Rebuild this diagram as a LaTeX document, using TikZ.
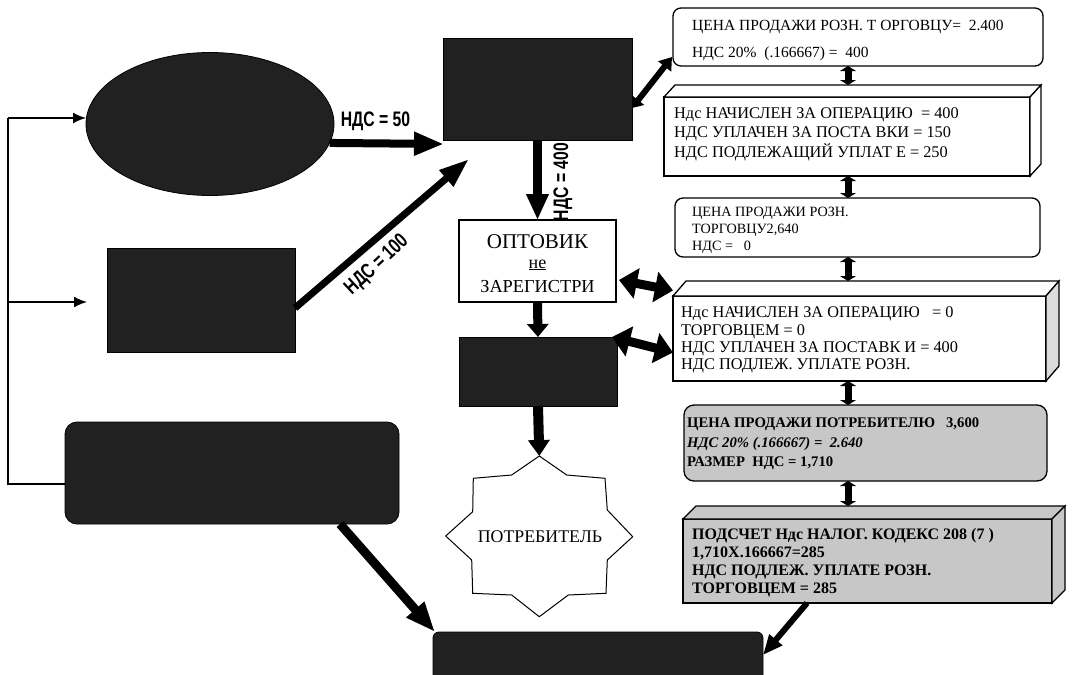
\documentclass[tikz,border=0pt]{standalone}
\usepackage{fontspec}
\setmainfont{Liberation Serif}
\newfontfamily\lblfont[FakeStretch=0.75]{Liberation Sans}
\usetikzlibrary{arrows.meta,shapes.geometric}
\definecolor{darkfill}{gray}{0.13}
\definecolor{dotfill}{gray}{0.78}
\definecolor{sidefill}{gray}{0.86}
\begin{document}
\begin{tikzpicture}[x=1pt,y=-1pt,
  darkbox/.style={draw=black,fill=darkfill,line width=0.8pt,outer sep=0pt,inner sep=0pt},
  wbox/.style={draw=black,fill=white,line width=1.3pt,outer sep=0pt,inner sep=0pt},
  graybox/.style={draw=black,fill=dotfill,line width=1.3pt,outer sep=0pt,inner sep=0pt},
  txt/.style={anchor=west,align=left,inner sep=0pt},
  lbl/.style={font=\lblfont\bfseries\fontsize{21}{21}\selectfont,inner sep=0pt},
  dbl/.style={line width=9pt,{Triangle[length=18pt,width=30pt]}-{Triangle[length=18pt,width=30pt]}},
  mini/.style={line width=7pt,{Triangle[length=5pt,width=16pt]}-{Triangle[length=5pt,width=16pt]}},
  thinarr/.style={line width=1.8pt,-{Latex[length=13pt,width=11pt]}}
]
\useasboundingbox (0,0) rectangle (1072,675);

% dark shapes
\node[darkbox,ellipse,minimum width=248pt,minimum height=143pt] (ell) at (210,124) {};
\node[darkbox,minimum width=188pt,minimum height=104pt] (dr1) at (201,300) {};
\node[darkbox,minimum width=189pt,minimum height=102pt] (top) at (537.5,89) {};
\node[darkbox,minimum width=158pt,minimum height=69pt] (mid) at (538,371.5) {};
\node[darkbox,rounded corners=12pt,minimum width=334pt,minimum height=102pt] (bl) at (232,473) {};
\node[darkbox,rounded corners=6pt,minimum width=330pt,minimum height=70pt] (bot) at (598,667) {};

% wholesaler box
\node[wbox,line width=1.2pt,minimum width=157pt,minimum height=82pt] (opt) at (537.5,261) {};
\node[anchor=base,inner sep=0pt,font=\fontsize{21}{21}\selectfont] (optA) at (537.5,248) {ОПТОВИК};
\node[anchor=base,inner sep=0pt,font=\fontsize{18}{18}\selectfont] (optB) at (537.5,268) {\underline{не}};
\node[anchor=base,inner sep=0pt,font=\fontsize{18.3}{18.3}\selectfont] (optC) at (537.5,292) {ЗАРЕГИСТРИ};

% star
\draw[line width=1pt,fill=white] (539.3,456) -- (566.7,475) -- (605,478.3) -- (607.3,510) -- (632.7,536.7) -- (607.3,560) -- (606,593.3) -- (568.3,595) -- (539.3,616.7) -- (511.7,595) -- (472.7,593.3) -- (471.7,560) -- (445.7,536) -- (472.7,511.7) -- (473.3,478.3) -- (511.7,475) -- cycle;
\coordinate (startop) at (539.3,456);
\node[font=\fontsize{17.8}{17.8}\selectfont,inner sep=0pt] (pot) at (540,537) {ПОТРЕБИТЕЛЬ};

% right column
\node[wbox,rounded corners=8pt,minimum width=370pt,minimum height=58pt] (A) at (858,37) {};
\node[txt,font=\fontsize{15.5}{27}\selectfont] (tA) at (692,40) {ЦЕНА ПРОДАЖИ РОЗН. Т ОРГОВЦУ=~~2.400\\НДС 20\%~~(.166667) =~~400};

\node[wbox,minimum width=366pt,minimum height=79pt] (B) at (847,136.5) {};
\draw[wbox] (B.north west) -- ++(11,-12) -- ([shift={(11,-12)}]B.north east) -- (B.north east) -- cycle;
\draw[wbox] (B.north east) -- ++(11,-12) -- ([shift={(11,-12)}]B.south east) -- (B.south east) -- cycle;
\node[txt,font=\fontsize{16.3}{19.5}\selectfont] (tB) at (674,134) {Ндс НАЧИСЛЕН ЗА ОПЕРАЦИЮ~~= 400\\НДС УПЛАЧЕН ЗА ПОСТА ВКИ = 150\\НДС ПОДЛЕЖАЩИЙ УПЛАТ Е~= 250};

\node[wbox,rounded corners=8pt,minimum width=365pt,minimum height=59pt] (C) at (857.5,227.5) {};
\node[txt,font=\fontsize{14.2}{17}\selectfont] (tC) at (692,230) {ЦЕНА ПРОДАЖИ РОЗН.\\ТОРГОВЦУ2,640\\НДС =~~~0};

\node[wbox,minimum width=373pt,minimum height=85pt] (D) at (859.5,338.5) {};
\draw[wbox] (D.north west) -- ++(13,-15) -- ([shift={(13,-15)}]D.north east) -- (D.north east) -- cycle;
\draw[wbox,fill=sidefill] (D.north east) -- ++(13,-15) -- ([shift={(13,-15)}]D.south east) -- (D.south east) -- cycle;
\node[txt,font=\fontsize{16.3}{17.3}\selectfont] (tD) at (681,340) {Ндс НАЧИСЛЕН ЗА ОПЕРАЦИЮ~~~= 0\\ТОРГОВЦЕМ = 0\\НДС УПЛАЧЕН ЗА ПОСТАВК И = 400\\НДС ПОДЛЕЖ. УПЛАТЕ РОЗН.};

\node[graybox,rounded corners=10pt,minimum width=363pt,minimum height=76pt] (E) at (865.5,443) {};
\node[txt,font=\bfseries\fontsize{14.7}{19.5}\selectfont] (tE) at (687,444) {ЦЕНА ПРОДАЖИ ПОТРЕБИТЕЛЮ~~~3,600\\\textit{НДС 20\% (.166667) =~~2.640}\\РАЗМЕР~ НДС = 1,710};

\node[graybox,minimum width=369pt,minimum height=84pt] (F) at (867.5,561) {};
\draw[graybox] (F.north west) -- ++(13,-13) -- ([shift={(13,-13)}]F.north east) -- (F.north east) -- cycle;
\draw[graybox] (F.north east) -- ++(13,-13) -- ([shift={(13,-13)}]F.south east) -- (F.south east) -- cycle;
\node[txt,font=\bfseries\fontsize{16}{18}\selectfont] (tF) at (692,563) {ПОДСЧЕТ Ндс НАЛОГ. КОДЕКС 208 (7 )\\1,710X.166667=285\\НДС ПОДЛЕЖ. УПЛАТЕ РОЗН.\\ТОРГОВЦЕМ = 285};

% left connector lines
\coordinate (j1) at (8,118);
\coordinate (j2) at (8,302);
\coordinate (j3) at (8,484);
\draw[line width=1.8pt] ([shift={(0,11)}]bl.west) -- (j3) -- (j1);
\draw[thinarr] (j1) -- ([shift={(0,-6)}]ell.west);
\draw[thinarr] (j2) -- ([shift={(-20,2)}]dr1.west);

% thick arrows
\draw[line width=8pt,-{Triangle[length=30pt,width=22pt]}] (ell.-9) -- ([shift={(1,4)}]top.south west);
\draw[line width=7pt,-{Triangle[length=30pt,width=20pt]}] ([shift={(0,8)}]dr1.east) -- ([shift={(26,19)}]top.south west);
\draw[line width=9pt,-{Triangle[length=26pt,width=21pt]}] (top.south) -- (opt.north);
\draw[line width=9pt,-{Triangle[length=13pt,width=21pt]}] (opt.south) -- (mid.north);
\draw[line width=10pt,-{Triangle[length=16pt,width=21pt]}] (mid.south) -- (startop);
\draw[line width=9pt,-{Triangle[length=30pt,width=22pt]}] ([shift={(-59,0)}]bl.south east) -- ([shift={(2,0)}]bot.north west);
\draw[line width=6pt,-{Triangle[length=20pt,width=16pt]}] ([shift={(124,0)}]F.south west) -- ([shift={(0,23)}]bot.north east);

% double arrows
\draw[line width=6pt,{Triangle[length=10pt,width=15pt]}-{Triangle[length=12pt,width=16pt]}] ([shift={(0,19)}]top.east) -- ([shift={(-1,20)}]A.west);
\draw[dbl] ([shift={(3,19)}]opt.east) -- ([shift={(0,-48)}]D.west);
\draw[dbl] ([shift={(-5,0)}]mid.north east) -- ([shift={(0,14)}]D.west);

\draw[mini] ([shift={(-10,0)}]A.south) -- ([shift={(1,-12)}]B.north);
\draw[mini] ([shift={(1,0)}]B.south) -- ([shift={(-9.5,0)}]C.north);
\draw[mini] ([shift={(-9.5,0)}]C.south) -- ([shift={(-11.5,-15)}]D.north);
\draw[mini] ([shift={(-11.5,0)}]D.south) -- ([shift={(-17.5,0)}]E.north);
\draw[mini] ([shift={(-17.5,0)}]E.south) -- ([shift={(-19.5,-13)}]F.north);

% arrow labels
\node[lbl] (l50) at (375.5,121) {НДС = 50};
\node[lbl,rotate=43] (l100) at (377,265) {НДС = 100};
\node[lbl,rotate=90] (l400) at (563,182) {НДС = 400};
\end{tikzpicture}
\end{document}
